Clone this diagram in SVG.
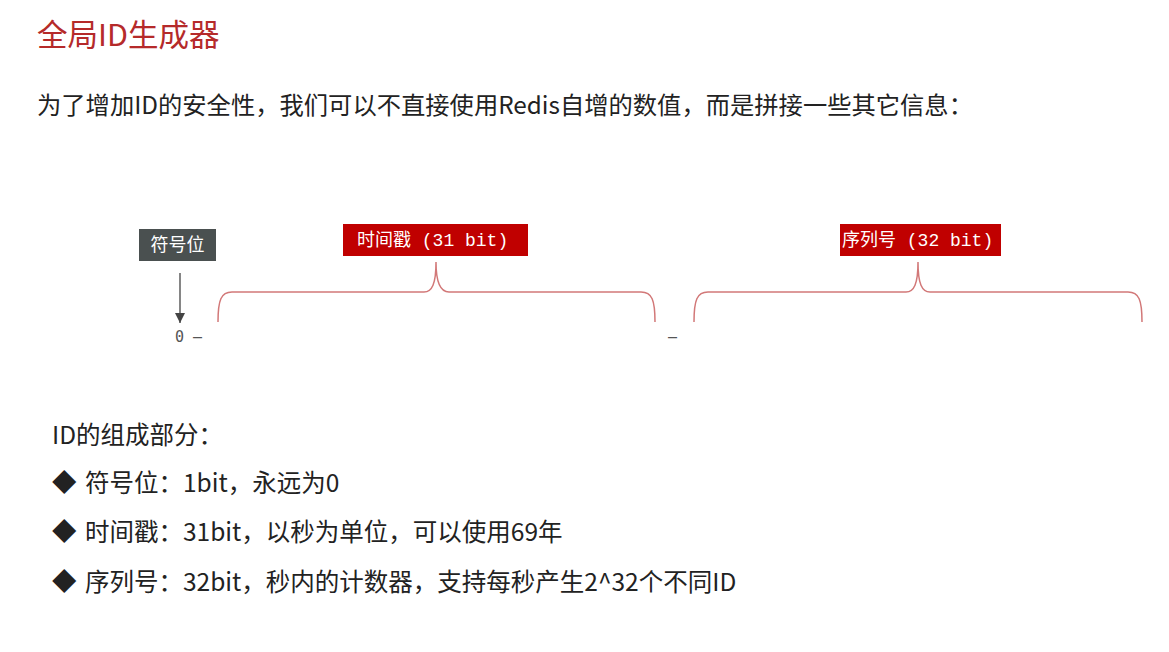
<svg xmlns="http://www.w3.org/2000/svg" width="1169" height="652" viewBox="0 0 1169 652">
<defs>
<style>
.cjk{font-family:"Noto Sans CJK SC","Microsoft YaHei",sans-serif;}
.body{font-size:24.5px;fill:#222;}
.lbl{font-family:"Liberation Mono","Noto Sans CJK SC",monospace;font-size:18px;fill:#fff;}
.brace{fill:none;stroke:#d27878;stroke-width:1.5;}
.mono{font-family:"DejaVu Sans Mono",monospace;font-size:15px;fill:#555;}
</style>
<marker id="ah" viewBox="0 0 10 10" refX="10" refY="5" markerWidth="10" markerHeight="10" markerUnits="userSpaceOnUse" orient="auto">
<path d="M0,0 L10,5 L0,10 z" fill="#444"/>
</marker>
</defs>
<rect width="1169" height="652" fill="#fff"/>
<text class="cjk" x="37" y="46" font-size="30.5" fill="#b52a2a">全局ID生成器</text>
<text class="cjk" x="37" y="114" font-size="24.3" fill="#222">为了增加ID的安全性，我们可以不直接使用Redis自增的数值，而是拼接一些其它信息：</text>

<g id="sign">
<rect x="139" y="229" width="77" height="32" fill="#4a5050"/>
<text class="cjk" x="177.5" y="251" font-size="18" fill="#fff" text-anchor="middle">符号位</text>
</g>
<g id="timestamp">
<rect x="343" y="224" width="185" height="32" fill="#c00000"/>
<text class="lbl" x="357" y="246">时间戳 (31 bit)</text>
</g>
<g id="sequence">
<rect x="840" y="224" width="161" height="32" fill="#c00000"/>
<text class="lbl" x="842" y="246">序列号 (32 bit)</text>
</g>
<g id="bits">
<text class="mono" x="175" y="342">0 –</text>
<text class="mono" x="668" y="342">–</text>
</g>
<g id="connectors">
<line x1="180" y1="273" x2="180" y2="323" stroke="#444" stroke-width="1.3" marker-end="url(#ah)"/>
<path class="brace" d="M218,322 C218,300 221,292 232,292 L424,292 C432,292 436,284 436,262 C436,284 441,292 449,292 L641,292 C652,292 655,300 655,322"/>
<path class="brace" d="M694,322 C694,300 697,292 708,292 L906,292 C914,292 918,284 918,262 C918,284 922,292 930,292 L1128,292 C1139,292 1142,300 1142,322"/>
</g>

<g id="parts">
<text class="cjk body" x="52" y="444">ID的组成部分：</text>
<text class="cjk body" x="52" y="492">◆</text>
<text class="cjk body" x="85" y="492">符号位：1bit，永远为0</text>
<text class="cjk body" x="52" y="541">◆</text>
<text class="cjk body" x="85" y="541">时间戳：31bit，以秒为单位，可以使用69年</text>
<text class="cjk body" x="52" y="591">◆</text>
<text class="cjk body" x="85" y="591">序列号：32bit，秒内的计数器，支持每秒产生2^32个不同ID</text>
</g>
</svg>
